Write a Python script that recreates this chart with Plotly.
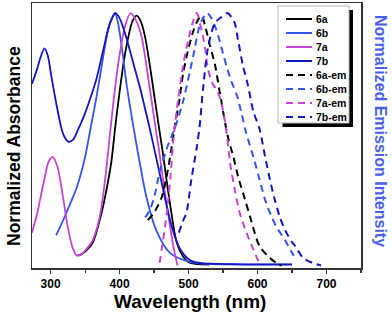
import plotly.graph_objects as go

# ---------------- data ----------------
wl_6a = [340, 345, 352, 361, 374, 381, 388, 395, 408, 419, 425, 431, 437, 444, 451, 458, 462, 468, 475, 482, 490, 499, 510, 520, 530]
ab_6a = [0.04, 0.045, 0.06, 0.09, 0.21, 0.30, 0.41, 0.58, 0.84, 0.97, 0.99, 0.965, 0.905, 0.79, 0.66, 0.53, 0.46, 0.34, 0.21, 0.10, 0.045, 0.015, 0.006, 0.004, 0.003]

wl_6b = [308, 315, 323, 338, 350, 357, 366, 374, 383, 389, 393, 397, 403, 410, 420, 429, 439, 453, 473, 500, 520, 560, 600, 650]
ab_6b = [0.12, 0.16, 0.21, 0.31, 0.43, 0.53, 0.66, 0.79, 0.93, 0.98, 1.0, 0.97, 0.87, 0.72, 0.55, 0.41, 0.27, 0.14, 0.05, 0.015, 0.007, 0.004, 0.003, 0.003]

wl_7a = [273, 280, 290, 297, 303, 310, 318, 325, 332, 338, 345, 352, 361, 371, 379, 386, 392, 398, 408, 416, 424, 432, 439, 446, 453, 457, 463, 470, 478, 484]
ab_7a = [0.13, 0.20, 0.33, 0.41, 0.43, 0.39, 0.27, 0.15, 0.07, 0.04, 0.045, 0.065, 0.10, 0.19, 0.34, 0.52, 0.67, 0.80, 0.95, 1.0, 0.97, 0.905, 0.79, 0.66, 0.53, 0.46, 0.34, 0.21, 0.075, 0.0]

wl_7b = [273, 280, 286, 291, 296, 301, 309, 316, 320, 326, 333, 340, 348, 356, 366, 376, 386, 394, 400, 410, 420, 430, 437, 444, 452, 460, 468, 475, 482, 490, 500, 511, 530, 560, 600, 650]
ab_7b = [0.72, 0.775, 0.83, 0.86, 0.83, 0.75, 0.63, 0.54, 0.51, 0.49, 0.50, 0.54, 0.59, 0.65, 0.735, 0.85, 0.96, 1.0, 0.98, 0.90, 0.80, 0.70, 0.62, 0.54, 0.44, 0.34, 0.24, 0.16, 0.10, 0.055, 0.025, 0.012, 0.007, 0.005, 0.004, 0.004]

wl_6a_em = [441, 450, 461, 468, 475, 480, 487, 492, 499, 507, 513, 519, 524, 531, 538, 545, 557, 565, 572, 582, 589, 603, 618, 630, 635]
em_6a = [0.18, 0.21, 0.27, 0.35, 0.46, 0.55, 0.66, 0.76, 0.85, 0.93, 0.97, 0.99, 0.95, 0.87, 0.80, 0.69, 0.51, 0.43, 0.35, 0.26, 0.195, 0.076, 0.03, 0.005, 0.0]

wl_6b_em = [437, 444, 451, 458, 468, 475, 482, 492, 502, 509, 514, 519, 527, 533, 538, 543, 548, 555, 562, 570, 577, 583, 594, 603, 611, 620, 627, 640, 650, 655]
em_6b = [0.19, 0.22, 0.28, 0.37, 0.46, 0.51, 0.56, 0.65, 0.77, 0.86, 0.93, 0.97, 1.0, 0.98, 0.95, 0.91, 0.86, 0.79, 0.73, 0.675, 0.60, 0.53, 0.43, 0.34, 0.26, 0.195, 0.155, 0.10, 0.05, 0.03]

wl_7a_em = [458, 463, 469, 474, 478, 485, 492, 500, 507, 512, 519, 524, 528, 535, 542, 548, 555, 560, 567, 574, 584, 594, 604]
em_7a = [0.01, 0.10, 0.22, 0.36, 0.50, 0.66, 0.79, 0.90, 0.97, 1.0, 0.93, 0.86, 0.78, 0.72, 0.69, 0.64, 0.53, 0.41, 0.30, 0.21, 0.13, 0.063, 0.0]

wl_7b_em = [486, 491, 497, 504, 512, 516, 521, 528, 538, 548, 556, 562, 567, 572, 579, 586, 594, 603, 611, 618, 625, 632, 640, 649, 655, 666, 680, 692]
em_7b = [0.13, 0.17, 0.21, 0.34, 0.47, 0.55, 0.70, 0.86, 0.96, 0.985, 1.0, 0.985, 0.96, 0.89, 0.79, 0.715, 0.61, 0.54, 0.43, 0.34, 0.26, 0.195, 0.14, 0.096, 0.075, 0.03, 0.01, 0.0]

x_tickvals = [300, 400, 500, 600, 700]
x_ticktext = ["300", "400", "500", "600", "700"]

# ---------------- styling ----------------
C_6A = "#000000"
C_6B = "#3355ee"
C_7A = "#c844d4"
C_7B = "#1515c0"
FONT = "Liberation Sans, Arial, sans-serif"
DASH = "7px,5px"

fig = go.Figure()

abs_series = [("6a", wl_6a, ab_6a, C_6A), ("6b", wl_6b, ab_6b, C_6B),
              ("7a", wl_7a, ab_7a, C_7A), ("7b", wl_7b, ab_7b, C_7B)]
em_series = [("6a-em", wl_6a_em, em_6a, C_6A), ("6b-em", wl_6b_em, em_6b, C_6B),
             ("7a-em", wl_7a_em, em_7a, C_7A), ("7b-em", wl_7b_em, em_7b, C_7B)]

for name, x, y, c in abs_series:
    fig.add_trace(go.Scatter(x=x, y=y, name=name, mode="lines", showlegend=False,
                             line=dict(color=c, width=1.8, shape="spline", smoothing=0.8),
                             yaxis="y"))
for name, x, y, c in em_series:
    fig.add_trace(go.Scatter(x=x, y=y, name=name, mode="lines", showlegend=False,
                             line=dict(color=c, width=2, dash=DASH, shape="spline", smoothing=0.8),
                             yaxis="y2"))

W, H = 392, 318
ML, MR, MT, MB = 32, 31, 3, 50
pw, ph = W - ML - MR, H - MT - MB

def px2paper_x(px):
    return (px - ML) / pw

def px2paper_y(py):
    return (H - MB - py) / ph

shapes = []
annotations = []

# ---- legend (compact, drawn as a boxed key) ----
LEG_L, LEG_R, LEG_T, LEG_B = 278, 349, 6, 123
shapes.append(dict(type="rect", xref="paper", yref="paper",
                   x0=px2paper_x(LEG_L + 4.5), x1=px2paper_x(LEG_R + 4),
                   y0=px2paper_y(LEG_B + 4), y1=px2paper_y(LEG_T + 4),
                   fillcolor="black", line=dict(width=0), layer="above"))
shapes.append(dict(type="rect", xref="paper", yref="paper",
                   x0=px2paper_x(LEG_L), x1=px2paper_x(LEG_R),
                   y0=px2paper_y(LEG_B), y1=px2paper_y(LEG_T),
                   fillcolor="white", line=dict(width=1, color="#b8b8b8"), layer="above"))
for i, (name, _, _, c) in enumerate(abs_series + em_series):
    yc = 19 + 14 * i
    dash = None if i < 4 else DASH
    shapes.append(dict(type="line", xref="paper", yref="paper",
                       x0=px2paper_x(286), x1=px2paper_x(312),
                       y0=px2paper_y(yc), y1=px2paper_y(yc),
                       line=dict(color=c, width=2, dash=dash), layer="above"))
    annotations.append(dict(text=name, xref="paper", yref="paper",
                            x=px2paper_x(313.5), y=px2paper_y(yc),
                            xanchor="left", yanchor="middle", showarrow=False,
                            font=dict(family=FONT, size=10.5, weight="bold", color="black")))

# ---- axis titles ----
annotations.append(dict(text="Wavelength (nm)", xref="paper", yref="paper",
                        x=px2paper_x(190), y=px2paper_y(301), xanchor="center", yanchor="middle",
                        showarrow=False, font=dict(family=FONT, size=19, weight="bold", color="black")))
annotations.append(dict(text="Normalized Absorbance", xref="paper", yref="paper",
                        x=px2paper_x(14), y=px2paper_y(146), xanchor="center", yanchor="middle",
                        textangle=-90, showarrow=False,
                        font=dict(family=FONT, size=17.5, weight="bold", color="black")))
annotations.append(dict(text="Normalized Emission Intensity", xref="paper", yref="paper",
                        x=px2paper_x(381), y=px2paper_y(131), xanchor="center", yanchor="middle",
                        textangle=90, showarrow=False,
                        font=dict(family=FONT, size=16, weight="bold", color="#4a5ef0")))

fig.update_layout(
    width=W, height=H,
    margin=dict(l=ML, r=MR, t=MT, b=MB, autoexpand=False),
    paper_bgcolor="white", plot_bgcolor="white",
    font=dict(family=FONT, color="black"),
    showlegend=False,
    hovermode=False,
    shapes=shapes,
    annotations=annotations,
    xaxis=dict(range=[273, 750], tickvals=x_tickvals, ticktext=x_ticktext,
               ticks="outside", ticklen=4, tickwidth=1.2, tickcolor="#333",
               minor=dict(tickvals=[350, 450, 550, 650, 750], ticks="outside", ticklen=3, tickcolor="#333"),
               showline=True, linecolor="#333", linewidth=1.5, mirror=True,
               showgrid=False, zeroline=False, automargin=False,
               tickfont=dict(family=FONT, size=12, weight="bold")),
    yaxis=dict(range=[-0.01, 1.04], showticklabels=False, ticks="",
               showline=True, linecolor="#333", linewidth=1.5, mirror=True,
               showgrid=False, zeroline=False, automargin=False),
    yaxis2=dict(range=[-0.01, 1.04], overlaying="y", side="right", showticklabels=False, ticks="",
                showline=False, showgrid=False, zeroline=False, automargin=False),
)

fig.write_html("out.html", config={"displayModeBar": False, "staticPlot": True},
               post_script="document.body.style.margin='0px';document.body.style.overflow='hidden';")
